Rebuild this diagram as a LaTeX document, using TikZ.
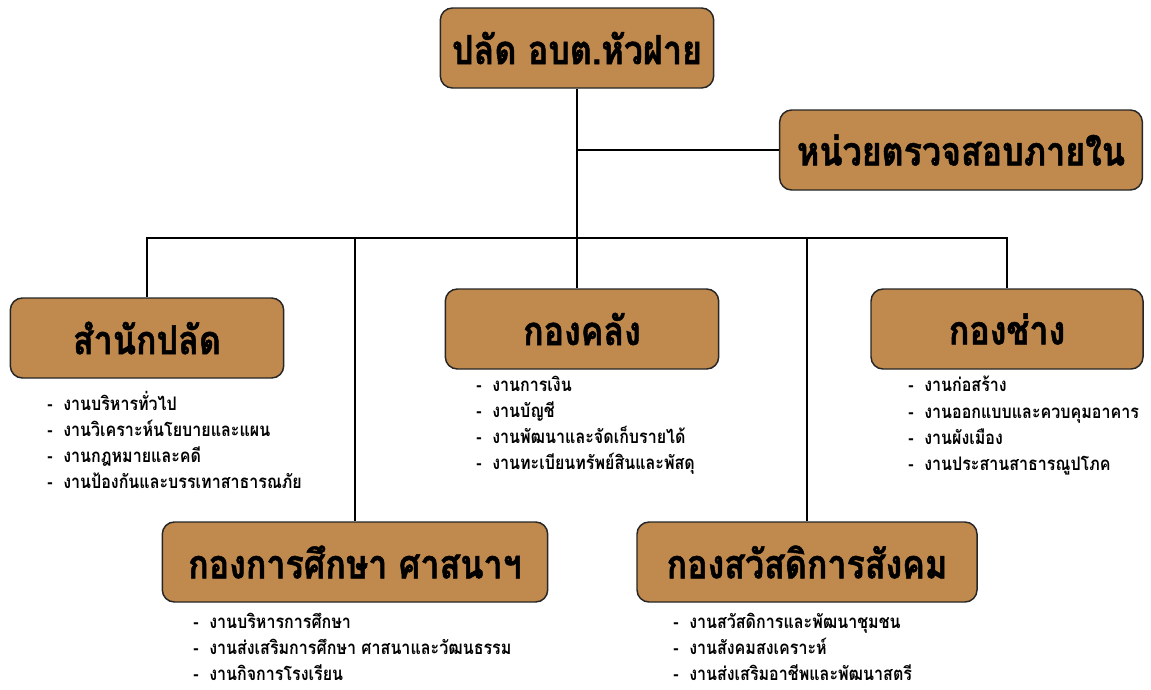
\documentclass[tikz,border=0pt]{standalone}
\usepackage{fontspec}
\usepackage{tikz}
\usetikzlibrary{positioning}
\newfontfamily\thaifont[Script=Thai,FakeStretch=0.86]{Loma}
\newfontfamily\thaihead[Script=Thai,FakeStretch=0.85,FakeBold=1.2]{Loma}
\definecolor{boxbrown}{RGB}{192,137,77}
\newcommand{\headsize}{\fontsize{30pt}{34pt}\selectfont}
\newcommand{\worksize}{\fontsize{14pt}{19.6pt}\selectfont}

\begin{document}
\begin{tikzpicture}[x=0.75pt, y=-0.75pt,
                unitbox/.style = {draw = black!85, line width = 1.1pt, fill = boxbrown,
                        rounded corners = 9pt, minimum height = 60pt, inner sep = 2pt,
                        font = \thaihead\bfseries\headsize},
                worklist/.style = {anchor = north west, align = left, inner sep = 0pt,
                        font = \thaifont\bfseries\worksize},
                link/.style = {line width = 1.2pt, black}]
                %\draw[help lines] (0,0) grid[step=50] (1151,689);
                \useasboundingbox (0,0) rectangle (1151,689);

                \node[unitbox, minimum width = 205pt] (palad) at (577,48) {ปลัด อบต.หัวฝาย};
                \node[unitbox, minimum width = 272pt] (audit) at (961,150) {หน่วยตรวจสอบภายใน};

                \node[unitbox, minimum width = 205pt] (office) at (147,338) {สำนักปลัด};
                \node[unitbox, minimum width = 205pt] (finance) at (582,329) {กองคลัง};
                \node[unitbox, minimum width = 204pt] (works) at (1007,329) {กองช่าง};
                \node[unitbox, minimum width = 289pt] (educ) at (355,562) {กองการศึกษา ศาสนาฯ};
                \node[unitbox, minimum width = 255pt] (welfare) at (807,562) {กองสวัสดิการสังคม};

                \coordinate (bar) at (577,238);

                % lines
                \draw[link] (palad.south) -- (palad.south |- finance.north);
                \draw[link] (palad.south |- audit.west) -- (audit.west);
                \draw[link] (office.north) |- (bar) -| (works.north);
                \draw[link] (educ.north) -- (educ.north |- bar);
                \draw[link] (welfare.north) -- (welfare.north |- bar);

                % work lists
                \node[worklist] (officejobs) at (47,391) {-\hspace{8pt}งานบริหารทั่วไป\\
                        -\hspace{8pt}งานวิเคราะห์นโยบายและแผน\\
                        -\hspace{8pt}งานกฎหมายและคดี\\
                        -\hspace{8pt}งานป้องกันและบรรเทาสาธารณภัย};
                \node[worklist] (financejobs) at (476,376) {-\hspace{8pt}งานการเงิน\\
                        -\hspace{8pt}งานบัญชี\\
                        -\hspace{8pt}งานพัฒนาและจัดเก็บรายได้\\
                        -\hspace{8pt}งานทะเบียนทรัพย์สินและพัสดุ};
                \node[worklist] (worksjobs) at (908,376) {-\hspace{8pt}งานก่อสร้าง\\
                        -\hspace{8pt}งานออกแบบและควบคุมอาคาร\\
                        -\hspace{8pt}งานผังเมือง\\
                        -\hspace{8pt}งานประสานสาธารณูปโภค};
                \node[worklist] (educjobs) at (193,613) {-\hspace{8pt}งานบริหารการศึกษา\\
                        -\hspace{8pt}งานส่งเสริมการศึกษา ศาสนาและวัฒนธรรม\\
                        -\hspace{8pt}งานกิจการโรงเรียน};
                \node[worklist] (welfarejobs) at (673,613) {-\hspace{8pt}งานสวัสดิการและพัฒนาชุมชน\\
                        -\hspace{8pt}งานสังคมสงเคราะห์\\
                        -\hspace{8pt}งานส่งเสริมอาชีพและพัฒนาสตรี};
\end{tikzpicture}
\end{document}
